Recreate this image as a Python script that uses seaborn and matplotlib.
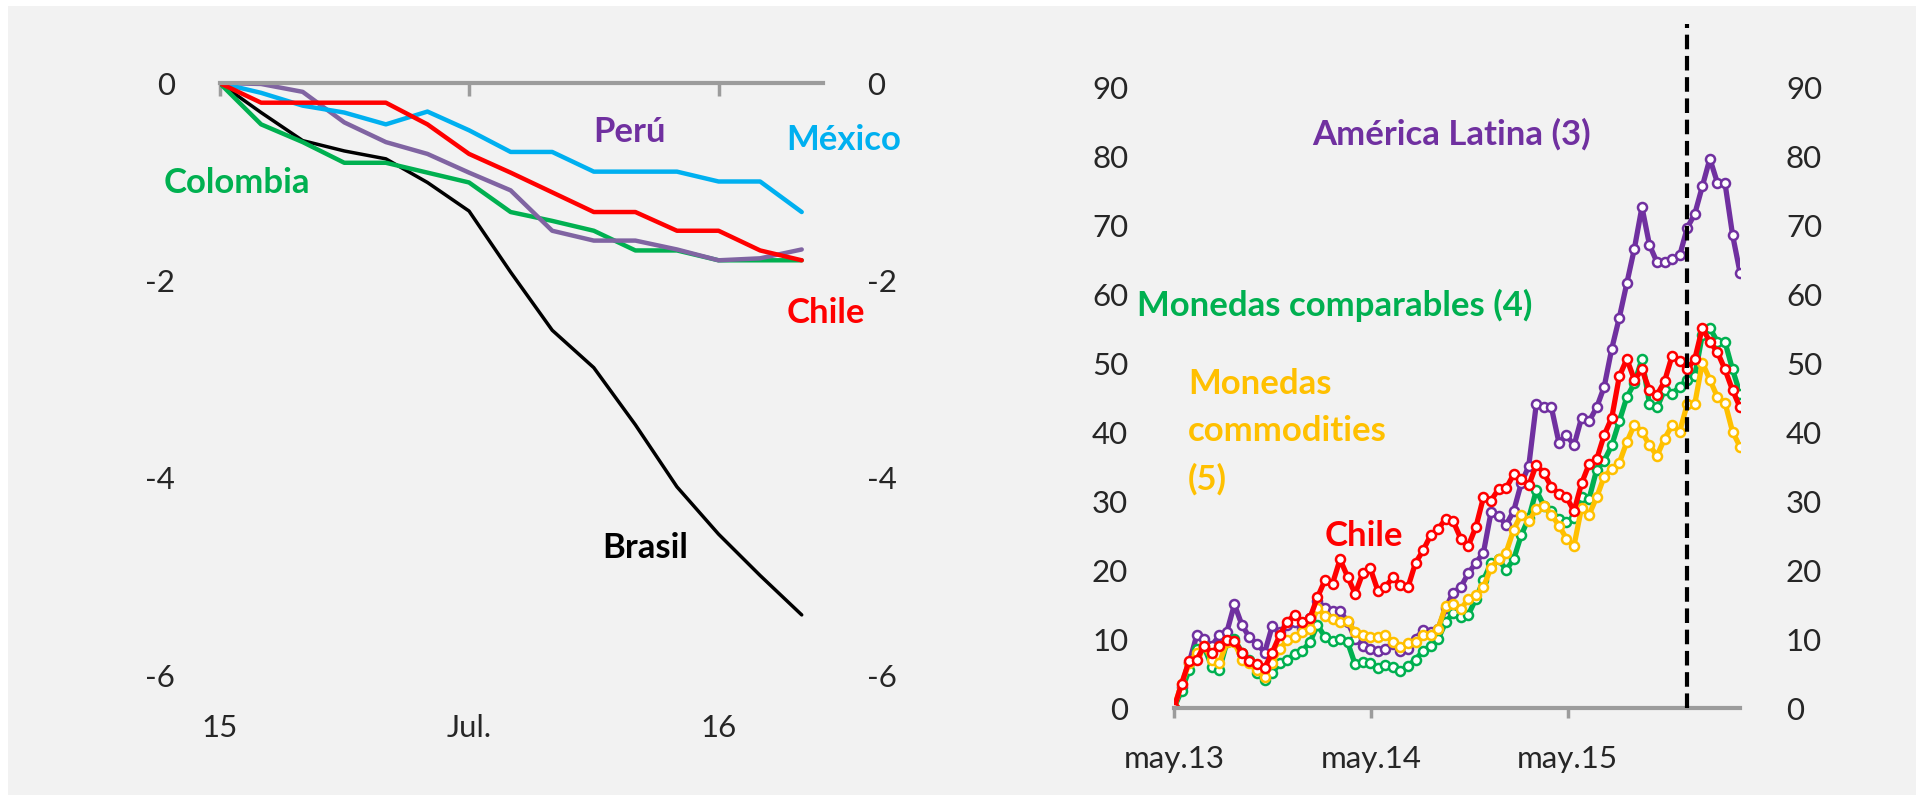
import numpy as np
import pandas as pd
import matplotlib
matplotlib.use("Agg")
import matplotlib.pyplot as plt
import seaborn as sns
from matplotlib.patches import Rectangle

# ---------- panel izquierdo: variacion acumulada, mensual ene.15 - mar.16
meses = np.arange(15)
meses_ticks = [0, 6, 12]
meses_labels = ["15", "Jul.", "16"]

brasil = [0, -0.30, -0.585, -0.69, -0.77, -1.01, -1.30, -1.92, -2.51, -2.89, -3.47, -4.10, -4.58, -5.00, -5.40]
colombia = [0, -0.42, -0.60, -0.81, -0.81, -0.91, -1.01, -1.31, -1.40, -1.50, -1.70, -1.70, -1.80, -1.80, -1.80]
peru = [0, -0.01, -0.09, -0.40, -0.60, -0.72, -0.91, -1.09, -1.50, -1.60, -1.60, -1.69, -1.80, -1.78, -1.69]
chile_izq = [0, -0.20, -0.20, -0.20, -0.20, -0.42, -0.72, -0.91, -1.11, -1.31, -1.31, -1.50, -1.50, -1.70, -1.80]
mexico = [0, -0.10, -0.23, -0.30, -0.42, -0.29, -0.48, -0.70, -0.70, -0.90, -0.90, -0.90, -1.00, -1.00, -1.31]

# ---------- panel derecho: indice, cada 14 dias desde may.13
fechas = pd.date_range("2013-05-01", periods=76, freq="14D")
fecha_fed = pd.Timestamp("2015-12-09")
anios_ticks = [pd.Timestamp("2013-05-01"), pd.Timestamp("2014-05-01"), pd.Timestamp("2015-05-01")]
anios_labels = ["may.13", "may.14", "may.15"]

america_latina = [0, 3.0, 6.5, 10.5, 10.0, 9.0, 10.5, 11.0, 15.0, 12.0, 10.2, 9.3, 8.0, 11.8, 11.0,
                  12.0, 12.5, 11.5, 13.0, 15.5, 14.5, 14.0, 14.0, 12.5, 10.0, 9.0, 8.5, 8.3, 8.5, 9.3,
                  8.3, 8.5, 10.0, 11.3, 11.0, 11.5, 14.5, 16.7, 17.5, 19.5, 21.0, 22.5, 28.3, 27.8, 26.5,
                  28.5, 32.5, 35.0, 44.0, 43.5, 43.5, 38.4, 39.5, 38.0, 42.0, 41.5, 43.5, 46.5, 52.0, 56.5,
                  61.5, 66.5, 72.5, 67.0, 64.5, 64.5, 65.0, 65.5, 69.5, 71.5, 75.5, 79.5, 76.0, 76.0, 68.5,
                  63.0]
comparables = [0, 2.5, 5.5, 8.5, 8.8, 6.0, 5.5, 9.5, 10.0, 8.0, 7.0, 5.0, 4.0, 5.0, 6.5,
               7.0, 7.8, 8.3, 9.5, 12.0, 10.3, 9.7, 10.0, 9.5, 6.3, 6.6, 6.5, 5.8, 6.2, 5.9,
               5.3, 6.1, 7.0, 8.3, 9.0, 10.0, 12.4, 13.8, 13.2, 13.5, 15.8, 18.5, 21.0, 21.5, 20.0,
               21.5, 25.0, 27.5, 31.5, 29.3, 28.5, 27.4, 26.9, 27.5, 30.5, 30.3, 34.5, 35.8, 38.0, 41.5,
               45.0, 47.0, 50.5, 44.0, 43.5, 46.0, 45.5, 46.5, 47.5, 48.1, 54.0, 55.0, 53.0, 53.0, 49.0,
               45.5]
commodities = [0, 3.5, 6.5, 8.0, 9.0, 7.0, 6.5, 9.5, 9.5, 7.0, 6.5, 5.5, 4.5, 6.5, 8.5,
               9.8, 10.2, 11.0, 11.5, 14.5, 13.3, 12.9, 12.5, 12.6, 11.0, 10.6, 10.3, 10.3, 10.5, 9.6,
               8.8, 9.4, 9.5, 10.5, 10.5, 11.5, 14.8, 15.0, 14.3, 15.8, 16.3, 17.5, 20.3, 21.5, 22.5,
               25.8, 28.0, 27.0, 28.8, 29.3, 28.0, 26.4, 24.5, 23.5, 29.0, 28.0, 30.5, 33.5, 34.6, 35.5,
               38.5, 41.0, 40.0, 38.0, 36.5, 39.0, 40.9, 40.0, 44.0, 44.0, 50.0, 47.5, 45.0, 44.2, 40.0,
               37.8]
chile_der = [0, 3.5, 6.8, 7.0, 9.0, 8.0, 9.0, 9.8, 9.7, 8.0, 6.8, 6.3, 5.8, 8.0, 10.5,
             12.5, 13.5, 12.5, 13.0, 16.0, 18.5, 18.0, 21.5, 19.0, 16.5, 19.5, 20.2, 17.0, 17.5, 18.9,
             17.8, 17.5, 21.0, 22.8, 25.0, 25.9, 27.4, 27.0, 24.5, 23.5, 26.2, 30.5, 30.0, 31.7, 31.8,
             33.8, 33.2, 32.2, 35.2, 34.0, 32.0, 31.0, 30.5, 28.5, 32.5, 35.3, 36.0, 39.5, 42.0, 48.0,
             50.5, 47.5, 49.0, 46.0, 45.3, 47.3, 51.0, 50.2, 49.0, 50.5, 55.0, 53.0, 51.5, 49.0, 46.0,
             43.5]

VERDE = "#00B050"
MORADO = "#7030A0"
MORADO_CLARO = "#8064A2"
CELESTE = "#00B0F0"
ROJO = "#FF0000"
AMARILLO = "#FFC000"
GRIS = "#9C9C9C"

sns.set_theme(style="white")
plt.rcParams["font.family"] = ["Lato", "DejaVu Sans"]

fig = plt.figure(figsize=(19.24, 8.03), dpi=100, facecolor="white")
fig.add_artist(Rectangle((0.0042, 0.0087), 0.9917, 0.9826, transform=fig.transFigure,
                         facecolor="#F2F2F2", edgecolor="none", zorder=-10))

# ================= panel izquierdo
ax1 = fig.add_axes([0.1141, 0.1594, 0.3134, 0.736])
ax1.set_facecolor("none")
sns.lineplot(x=meses, y=brasil, ax=ax1, color="black", lw=2.5)
sns.lineplot(x=meses, y=colombia, ax=ax1, color=VERDE, lw=3.2)
sns.lineplot(x=meses, y=peru, ax=ax1, color=MORADO_CLARO, lw=3.2)
sns.lineplot(x=meses, y=mexico, ax=ax1, color=CELESTE, lw=3.2)
sns.lineplot(x=meses, y=chile_izq, ax=ax1, color=ROJO, lw=3.2)

ax1.set_xlim(0, 14.5)
ax1.set_ylim(-6, 0)
ax1.set_yticks([0, -2, -4, -6])
ax1.set_yticklabels(["0", "-2", "-4", "-6"])
ax1.set_xticks(meses_ticks)
ax1.set_xticklabels(meses_labels)
for s in ["left", "right", "bottom"]:
    ax1.spines[s].set_visible(False)
ax1.spines["top"].set_color(GRIS)
ax1.spines["top"].set_linewidth(3)
ax1.tick_params(axis="y", left=False, right=False, labelleft=True, labelright=True,
                labelsize=22.5, pad=26)
ax1.tick_params(axis="x", bottom=False, top=True, labelbottom=True, labeltop=False,
                direction="in", length=9, width=2.5, color=GRIS, labelsize=22.5, pad=28)
ax1.set_xlabel("")
ax1.set_ylabel("")

lab = dict(fontsize=25, fontweight="bold", transform=ax1.transAxes, ha="center", va="center")
ax1.text(0.6806, 0.9188, "Perú", color=MORADO, **lab)
ax1.text(1.0355, 0.9052, "México", color=CELESTE, **lab)
ax1.text(0.0289, 0.8325, "Colombia", color=VERDE, **lab)
ax1.text(1.0056, 0.6125, "Chile", color=ROJO, **lab)
ax1.text(0.7055, 0.2149, "Brasil", color="black", **lab)

# ================= panel derecho
ax2 = fig.add_axes([0.6102, 0.1171, 0.2942, 0.8518])
ax2.set_facecolor("none")
series = [(america_latina, MORADO), (comparables, VERDE), (commodities, AMARILLO), (chile_der, ROJO)]
for vals, col in series:
    sns.lineplot(x=fechas, y=vals, ax=ax2, color=col, lw=3.8, marker="o", markersize=6.5,
                 markerfacecolor="white", markeredgecolor=col, markeredgewidth=1.8)

ax2.axvline(fecha_fed, color="black", lw=3, ls=(0, (3.5, 1.6)), zorder=5)
ax2.set_xlim(fechas[0], fechas[-1])
ax2.set_ylim(0, 99)
ax2.set_yticks(range(0, 91, 10))
ax2.set_xticks(anios_ticks)
ax2.set_xticklabels(anios_labels)
for s in ["left", "right", "top"]:
    ax2.spines[s].set_visible(False)
ax2.spines["bottom"].set_color(GRIS)
ax2.spines["bottom"].set_linewidth(3)
ax2.tick_params(axis="y", left=False, right=False, labelleft=True, labelright=True,
                labelsize=22.5, pad=27)
ax2.tick_params(axis="x", bottom=True, direction="out", length=7, width=2.5, color=GRIS,
                labelsize=22.5, pad=19)
ax2.set_xlabel("")
ax2.set_ylabel("")

lab2 = dict(fontsize=25, fontweight="bold", transform=ax2.transAxes, va="center")
ax2.text(0.491, 0.8406, "América Latina (3)", color=MORADO, ha="center", **lab2)
ax2.text(0.2845, 0.5906, "Monedas comparables (4)", color=VERDE, ha="center", **lab2)
ax2.text(0.0247, 0.405, "Monedas\ncommodities\n(5)", color=AMARILLO, ha="left",
         linespacing=1.6, **lab2)
ax2.text(0.3357, 0.2529, "Chile", color=ROJO, ha="center", **lab2)

fig.savefig("out.png", dpi=100, facecolor=fig.get_facecolor())
